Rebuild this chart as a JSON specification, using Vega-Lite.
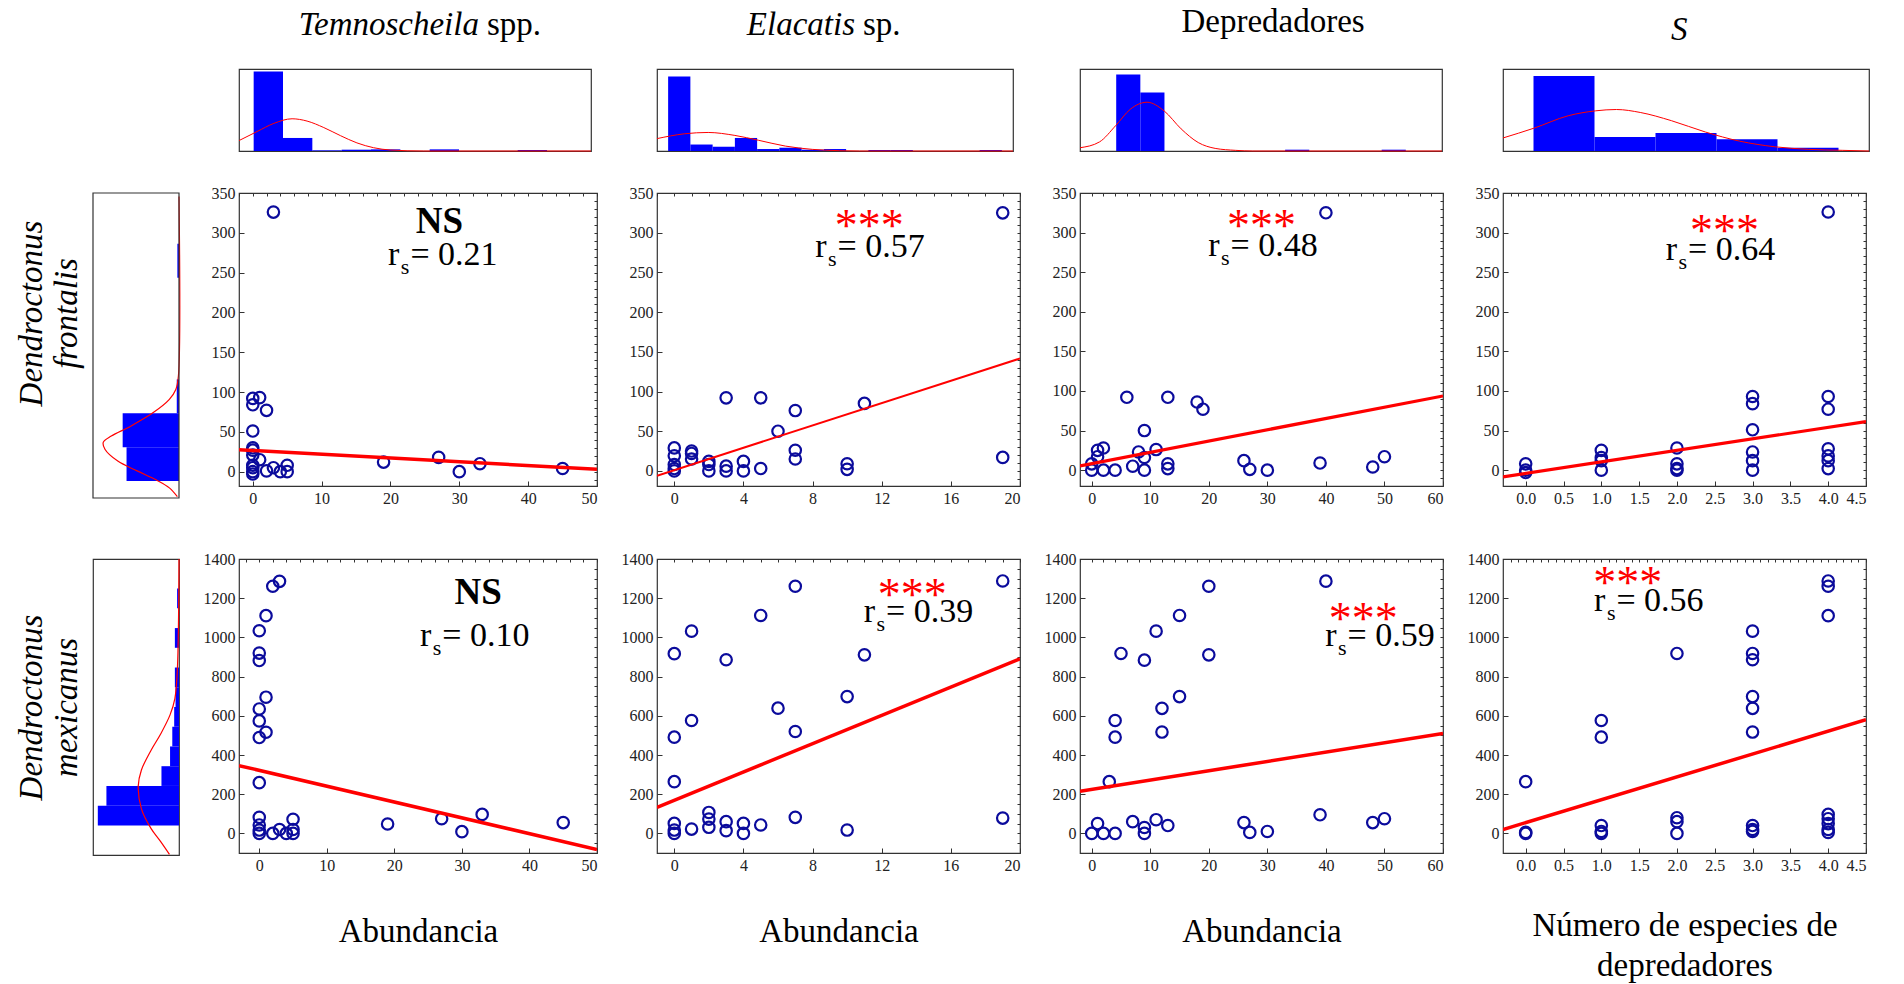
{
"$schema": "https://vega.github.io/schema/vega-lite/v6.json",
"background": "white",
"padding": {"left": 14, "top": 5, "right": 5, "bottom": 5},
"bounds": "flush",
"align": "each",
"columns": 5,
"spacing": {"row": 42, "column": 60},
"config": {
  "font": "Liberation Serif",
  "view": {"stroke": "#333333", "strokeWidth": 1.2},
  "axis": {"labelFont": "Liberation Serif", "labelFontSize": 16, "labelColor": "#222222", "grid": false, "domain": false, "tickColor": "#333333", "tickSize": -5, "labelPadding": 9, "titleFont": "Liberation Serif", "titleFontSize": 33, "titleFontWeight": "normal", "titleColor": "#000000"},
  "text": {"font": "Liberation Serif", "baseline": "alphabetic"}
},
"datasets": {
  "s11": [{"x":3,"y":326},{"x":0,"y":92},{"x":0,"y":84},{"x":1,"y":93},{"x":2,"y":77},{"x":0,"y":51},{"x":0,"y":30},{"x":0,"y":27},{"x":0,"y":21},{"x":1,"y":15},{"x":0,"y":8},{"x":0,"y":5},{"x":0,"y":0},{"x":0,"y":-3},{"x":2,"y":1},{"x":3,"y":5},{"x":4,"y":0},{"x":5,"y":8},{"x":5,"y":0},{"x":19,"y":12},{"x":27,"y":18},{"x":30,"y":0},{"x":33,"y":10},{"x":45,"y":4}],
  "l11": [{"x":-2,"y":27.5},{"x":50,"y":3}],
  "s12": [{"x":19,"y":325},{"x":3,"y":92},{"x":5,"y":92},{"x":7,"y":76},{"x":11,"y":85},{"x":6,"y":50},{"x":7,"y":26},{"x":7,"y":15},{"x":0,"y":29},{"x":0,"y":19},{"x":0,"y":8},{"x":0,"y":3},{"x":0,"y":0},{"x":1,"y":25},{"x":1,"y":22},{"x":1,"y":15},{"x":2,"y":12},{"x":2,"y":8},{"x":2,"y":0},{"x":3,"y":6},{"x":3,"y":0},{"x":4,"y":12},{"x":4,"y":0},{"x":5,"y":3},{"x":10,"y":9},{"x":10,"y":2},{"x":19,"y":17}],
  "l12": [{"x":-1,"y":-6},{"x":20,"y":141.6}],
  "s13": [{"x":40,"y":325},{"x":6,"y":92},{"x":13,"y":92},{"x":18,"y":86},{"x":19,"y":77},{"x":9,"y":50},{"x":2,"y":28},{"x":1,"y":25},{"x":1,"y":17},{"x":0,"y":8},{"x":0,"y":0},{"x":2,"y":0},{"x":4,"y":0},{"x":7,"y":5},{"x":8,"y":23},{"x":9,"y":16},{"x":9,"y":0},{"x":11,"y":26},{"x":13,"y":8},{"x":13,"y":2},{"x":26,"y":12},{"x":27,"y":1},{"x":30,"y":0},{"x":39,"y":9},{"x":48,"y":4},{"x":50,"y":17}],
  "l13": [{"x":-2,"y":5.5},{"x":60,"y":93.7}],
  "s14": [{"x":4,"y":326},{"x":0,"y":8},{"x":0,"y":0},{"x":0,"y":-3},{"x":1,"y":25},{"x":1,"y":16},{"x":1,"y":12},{"x":1,"y":0},{"x":2,"y":28},{"x":2,"y":8},{"x":2,"y":2},{"x":2,"y":0},{"x":3,"y":93},{"x":3,"y":84},{"x":3,"y":51},{"x":3,"y":23},{"x":3,"y":12},{"x":3,"y":0},{"x":4,"y":93},{"x":4,"y":77},{"x":4,"y":27},{"x":4,"y":18},{"x":4,"y":12},{"x":4,"y":2}],
  "l14": [{"x":-0.3,"y":-8.4},{"x":4.5,"y":61.3}],
  "s21": [{"x":3,"y":1286},{"x":2,"y":1261},{"x":1,"y":1111},{"x":0,"y":1034},{"x":0,"y":920},{"x":0,"y":882},{"x":1,"y":695},{"x":0,"y":635},{"x":0,"y":574},{"x":1,"y":516},{"x":0,"y":489},{"x":0,"y":259},{"x":0,"y":82},{"x":0,"y":43},{"x":0,"y":17},{"x":0,"y":0},{"x":2,"y":0},{"x":3,"y":20},{"x":4,"y":0},{"x":5,"y":72},{"x":5,"y":20},{"x":5,"y":0},{"x":19,"y":48},{"x":27,"y":75},{"x":30,"y":9},{"x":33,"y":97},{"x":45,"y":55}],
  "l21": [{"x":-3,"y":346},{"x":50,"y":-82}],
  "s22": [{"x":19,"y":1288},{"x":7,"y":1261},{"x":5,"y":1112},{"x":1,"y":1032},{"x":0,"y":917},{"x":3,"y":886},{"x":11,"y":911},{"x":10,"y":698},{"x":6,"y":639},{"x":1,"y":576},{"x":7,"y":520},{"x":0,"y":491},{"x":0,"y":264},{"x":0,"y":51},{"x":0,"y":17},{"x":0,"y":0},{"x":1,"y":22},{"x":2,"y":107},{"x":2,"y":73},{"x":2,"y":31},{"x":3,"y":60},{"x":3,"y":14},{"x":4,"y":51},{"x":4,"y":0},{"x":5,"y":43},{"x":7,"y":82},{"x":10,"y":17},{"x":19,"y":78}],
  "l22": [{"x":-1,"y":133},{"x":20,"y":891}],
  "s23": [{"x":40,"y":1287},{"x":20,"y":1261},{"x":15,"y":1112},{"x":11,"y":1032},{"x":5,"y":918},{"x":9,"y":884},{"x":20,"y":911},{"x":15,"y":698},{"x":12,"y":638},{"x":4,"y":576},{"x":12,"y":517},{"x":4,"y":491},{"x":3,"y":264},{"x":0,"y":0},{"x":1,"y":50},{"x":2,"y":0},{"x":4,"y":0},{"x":7,"y":60},{"x":9,"y":0},{"x":9,"y":30},{"x":11,"y":70},{"x":13,"y":40},{"x":26,"y":55},{"x":27,"y":5},{"x":30,"y":10},{"x":39,"y":95},{"x":48,"y":55},{"x":50,"y":75}],
  "l23": [{"x":-2,"y":215},{"x":60,"y":510}],
  "s24": [{"x":0,"y":264},{"x":0,"y":0},{"x":0,"y":5},{"x":1,"y":576},{"x":1,"y":491},{"x":1,"y":40},{"x":1,"y":10},{"x":1,"y":0},{"x":2,"y":918},{"x":2,"y":80},{"x":2,"y":60},{"x":2,"y":0},{"x":3,"y":1032},{"x":3,"y":918},{"x":3,"y":886},{"x":3,"y":698},{"x":3,"y":638},{"x":3,"y":517},{"x":3,"y":40},{"x":3,"y":20},{"x":3,"y":10},{"x":4,"y":1288},{"x":4,"y":1261},{"x":4,"y":1111},{"x":4,"y":97},{"x":4,"y":75},{"x":4,"y":50},{"x":4,"y":20},{"x":4,"y":5}],
  "l24": [{"x":-0.3,"y":20},{"x":4.5,"y":580}],
  "h1": [{"a":0.5,"b":1.5,"h":96.8},{"a":1.5,"b":2.5,"h":15.9},{"a":2.5,"b":3.5,"h":0.8},{"a":3.5,"b":4.5,"h":1.6},{"a":4.5,"b":5.5,"h":2},{"a":6.5,"b":7.5,"h":2},{"a":9.5,"b":10.5,"h":1.2}],
  "c1": [{"u":0,"h":12.7},{"u":0.62,"h":23.8},{"u":1.19,"h":33.7},{"u":1.81,"h":39.3},{"u":2.32,"h":36.5},{"u":2.89,"h":28.6},{"u":3.46,"h":18.7},{"u":4.02,"h":9.9},{"u":4.59,"h":4},{"u":5.16,"h":1.2},{"u":6.3,"h":0},{"u":12,"h":0}],
  "h2": [{"a":0.5,"b":1.5,"h":91},{"a":1.5,"b":2.5,"h":7.9},{"a":2.5,"b":3.5,"h":5.2},{"a":3.5,"b":4.5,"h":15.9},{"a":4.5,"b":5.5,"h":2.4},{"a":5.5,"b":6.5,"h":4},{"a":6.5,"b":7.5,"h":1.6},{"a":7.5,"b":8.5,"h":2.4},{"a":9.5,"b":10.5,"h":1.2},{"a":10.5,"b":11.5,"h":1.2},{"a":14.5,"b":15.5,"h":1.2}],
  "c2": [{"u":0,"h":15.1},{"u":1.24,"h":21},{"u":2.3,"h":22.6},{"u":3.5,"h":19},{"u":4.56,"h":13.1},{"u":5.77,"h":6},{"u":6.98,"h":2},{"u":8.19,"h":0.4},{"u":9.1,"h":0},{"u":16,"h":0}],
  "h3": [{"a":1.5,"b":2.5,"h":93.3},{"a":2.5,"b":3.5,"h":71.4},{"a":8.5,"b":9.5,"h":1.6},{"a":12.5,"b":13.5,"h":1.6}],
  "c3": [{"u":0,"h":4},{"u":0.81,"h":11.1},{"u":1.48,"h":31},{"u":2.08,"h":50.8},{"u":2.78,"h":59.5},{"u":3.49,"h":48.8},{"u":4.19,"h":27},{"u":4.9,"h":10.3},{"u":5.6,"h":3.2},{"u":6.45,"h":0.8},{"u":7.16,"h":0},{"u":15,"h":0}],
  "h4": [{"a":0.5,"b":1.5,"h":91.6},{"a":1.5,"b":2.5,"h":17.1},{"a":2.5,"b":3.5,"h":21.9},{"a":3.5,"b":4.5,"h":14.3},{"a":4.5,"b":5.5,"h":4}],
  "c4": [{"u":0,"h":15.9},{"u":0.51,"h":27.9},{"u":1.07,"h":43},{"u":1.52,"h":49},{"u":1.86,"h":50.6},{"u":2.25,"h":47},{"u":2.76,"h":37},{"u":3.32,"h":23.1},{"u":3.88,"h":12},{"u":4.45,"h":5.2},{"u":5.01,"h":2},{"u":5.57,"h":0.8},{"u":6,"h":0}],
  "g1": [{"a":0.5,"b":1.5,"h":61},{"a":1.5,"b":2.5,"h":65.5},{"a":2.5,"b":3.5,"h":2.6},{"a":6.5,"b":7.5,"h":1.9}],
  "k1": [{"v":0.04,"h":1.9},{"v":0.3,"h":11.2},{"v":0.53,"h":26.2},{"v":0.8,"h":48.7},{"v":1.09,"h":71.2},{"v":1.44,"h":86.1},{"v":1.65,"h":88},{"v":1.83,"h":78.7},{"v":2.12,"h":56.2},{"v":2.52,"h":29.9},{"v":2.91,"h":11.2},{"v":3.2,"h":3.7},{"v":3.6,"h":0.7},{"v":8.9,"h":0}],
  "g2": [{"a":1.5,"b":2.5,"h":94.4},{"a":2.5,"b":3.5,"h":84.4},{"a":3.5,"b":4.5,"h":20.4},{"a":4.5,"b":5.5,"h":10.4},{"a":5.5,"b":6.5,"h":7.8},{"a":6.5,"b":7.5,"h":5.6},{"a":7.5,"b":8.5,"h":4},{"a":8.5,"b":9.5,"h":4.8},{"a":10.5,"b":11.5,"h":4.8},{"a":12.5,"b":13.5,"h":2.2}],
  "k2": [{"v":0.03,"h":11.1},{"v":0.69,"h":21.5},{"v":1.35,"h":32.6},{"v":2.34,"h":43.7},{"v":3.49,"h":47.4},{"v":4.31,"h":43.7},{"v":5.3,"h":32.6},{"v":6.12,"h":21.5},{"v":7.1,"h":10.4},{"v":7.93,"h":4.8},{"v":9.4,"h":1.9},{"v":15,"h":0}]
},
"concat": [
  {"width": 86, "height": 82, "view": {"stroke": null}, "data": {"values": [{}]}, "mark": {"type": "text", "text": ""}},
  {"width": 352, "height": 82, "layer": [
    {"data": {"name": "h1"}, "mark": {"type": "rect", "color": "#0000ff"}, "encoding": {"x": {"field": "a", "type": "quantitative", "scale": {"domain": [0, 12], "nice": false, "zero": false}, "axis": null}, "x2": {"field": "b"}, "y": {"field": "h", "type": "quantitative", "scale": {"domain": [0, 100], "nice": false}, "axis": null}, "y2": {"datum": 0}}},
    {"data": {"name": "c1"}, "mark": {"type": "line", "color": "#ff0000", "strokeWidth": 1, "interpolate": "monotone"}, "encoding": {"x": {"field": "u", "type": "quantitative"}, "y": {"field": "h", "type": "quantitative"}}},
    {"data": {"values": [{}]}, "mark": {"type": "text", "text": "Temnoscheila", "fontStyle": "italic", "fontSize": 33, "align": "right"}, "encoding": {"x": {"datum": 8.18}, "y": {"datum": 141.5}}},
    {"data": {"values": [{}]}, "mark": {"type": "text", "text": "spp.", "fontSize": 33, "align": "left", "dx": 8}, "encoding": {"x": {"datum": 8.18}, "y": {"datum": 141.5}}}
  ]},
  {"width": 356, "height": 82, "layer": [
    {"data": {"name": "h2"}, "mark": {"type": "rect", "color": "#0000ff"}, "encoding": {"x": {"field": "a", "type": "quantitative", "scale": {"domain": [0, 16], "nice": false, "zero": false}, "axis": null}, "x2": {"field": "b"}, "y": {"field": "h", "type": "quantitative", "scale": {"domain": [0, 100], "nice": false}, "axis": null}, "y2": {"datum": 0}}},
    {"data": {"name": "c2"}, "mark": {"type": "line", "color": "#ff0000", "strokeWidth": 1, "interpolate": "monotone"}, "encoding": {"x": {"field": "u", "type": "quantitative"}, "y": {"field": "h", "type": "quantitative"}}},
    {"data": {"values": [{}]}, "mark": {"type": "text", "text": "Elacatis", "fontStyle": "italic", "fontSize": 33, "align": "right"}, "encoding": {"x": {"datum": 8.9}, "y": {"datum": 141.5}}},
    {"data": {"values": [{}]}, "mark": {"type": "text", "text": "sp.", "fontSize": 33, "align": "left", "dx": 8}, "encoding": {"x": {"datum": 8.9}, "y": {"datum": 141.5}}}
  ]},
  {"width": 362, "height": 82, "layer": [
    {"data": {"name": "h3"}, "mark": {"type": "rect", "color": "#0000ff"}, "encoding": {"x": {"field": "a", "type": "quantitative", "scale": {"domain": [0, 15], "nice": false, "zero": false}, "axis": null}, "x2": {"field": "b"}, "y": {"field": "h", "type": "quantitative", "scale": {"domain": [0, 100], "nice": false}, "axis": null}, "y2": {"datum": 0}}},
    {"data": {"name": "c3"}, "mark": {"type": "line", "color": "#ff0000", "strokeWidth": 1, "interpolate": "monotone"}, "encoding": {"x": {"field": "u", "type": "quantitative"}, "y": {"field": "h", "type": "quantitative"}}},
    {"data": {"values": [{}]}, "mark": {"type": "text", "text": "Depredadores", "fontSize": 33, "align": "center"}, "encoding": {"x": {"datum": 8.0}, "y": {"datum": 145.5}}}
  ]},
  {"width": 366, "height": 82, "layer": [
    {"data": {"name": "h4"}, "mark": {"type": "rect", "color": "#0000ff"}, "encoding": {"x": {"field": "a", "type": "quantitative", "scale": {"domain": [0, 6], "nice": false, "zero": false}, "axis": null}, "x2": {"field": "b"}, "y": {"field": "h", "type": "quantitative", "scale": {"domain": [0, 100], "nice": false}, "axis": null}, "y2": {"datum": 0}}},
    {"data": {"name": "c4"}, "mark": {"type": "line", "color": "#ff0000", "strokeWidth": 1, "interpolate": "monotone"}, "encoding": {"x": {"field": "u", "type": "quantitative"}, "y": {"field": "h", "type": "quantitative"}}},
    {"data": {"values": [{}]}, "mark": {"type": "text", "text": "S", "fontStyle": "italic", "fontSize": 33, "align": "center"}, "encoding": {"x": {"datum": 2.89}, "y": {"datum": 135.4}}}
  ]},

  {"width": 86, "height": 324, "view": {"stroke": null}, "layer": [
    {"data": {"name": "g1"}, "mark": {"type": "rect", "color": "#0000ff"}, "encoding": {"y": {"field": "a", "type": "quantitative", "scale": {"domain": [-0.56, 9], "nice": false, "zero": false}, "axis": {"title": ["Dendroctonus", "frontalis"], "labels": false, "ticks": false, "titleFontStyle": "italic", "titlePadding": 10, "titleLineHeight": 35, "titleY": 120}}, "y2": {"field": "b"}, "x": {"field": "h", "type": "quantitative", "scale": {"domain": [0, 100], "reverse": true, "nice": false}, "axis": null}, "x2": {"datum": 0}}},
    {"data": {"name": "k1"}, "mark": {"type": "line", "color": "#ff0000", "strokeWidth": 1.2, "interpolate": "catmull-rom"}, "encoding": {"x": {"field": "h", "type": "quantitative"}, "y": {"field": "v", "type": "quantitative", "title": ["Dendroctonus", "frontalis"]}, "order": {"field": "v", "type": "quantitative"}}},
    {"data": {"values": [{}]}, "mark": {"type": "rect", "fillOpacity": 0, "stroke": "#333333", "strokeWidth": 1.2}, "encoding": {"x": {"datum": 0}, "x2": {"datum": 100}, "y": {"datum": 0}, "y2": {"datum": 9}}}
  ]},
  {"width": 358, "height": 293, "resolve": {"axis": {"x": "independent", "y": "independent"}}, "layer": [
    {"layer": [
      {"data": {"name": "s11"}, "mark": {"type": "point", "shape": "circle", "filled": false, "size": 130, "strokeWidth": 2.2, "color": "#0b0b9c", "opacity": 1}, "encoding": {"x": {"field": "x", "type": "quantitative", "title": null, "scale": {"domain": [-2, 50], "nice": false, "zero": false}, "axis": {"values": [0, 10, 20, 30, 40, 50]}}, "y": {"field": "y", "type": "quantitative", "title": null, "scale": {"domain": [-18, 350], "nice": false, "zero": false}, "axis": {"values": [0, 50, 100, 150, 200, 250, 300, 350]}}}},
      {"data": {"name": "l11"}, "mark": {"type": "line", "color": "#ff0000", "strokeWidth": 3.5, "clip": true}, "encoding": {"x": {"field": "x", "type": "quantitative", "title": null}, "y": {"field": "y", "type": "quantitative", "title": null}}},
      {"data": {"values": [{}]}, "mark": {"type": "text", "text": "NS", "fontSize": 37, "fontWeight": "bold", "align": "center"}, "encoding": {"x": {"datum": 27.1}, "y": {"datum": 300}}},
      {"data": {"values": [{}]}, "mark": {"type": "text", "text": "= 0.21", "fontSize": 34, "align": "left"}, "encoding": {"x": {"datum": 22.9}, "y": {"datum": 259}}},
      {"data": {"values": [{}]}, "mark": {"type": "text", "text": "r", "fontSize": 34, "align": "right", "dx": -11}, "encoding": {"x": {"datum": 22.9}, "y": {"datum": 259}}},
      {"data": {"values": [{}]}, "mark": {"type": "text", "text": "s", "fontSize": 22, "align": "right", "dx": -1, "dy": 9}, "encoding": {"x": {"datum": 22.9}, "y": {"datum": 259}}}
    ]},
    {"data": {"values": [{}]}, "mark": {"type": "point", "opacity": 0}, "encoding": {"x": {"datum": 0, "type": "quantitative", "axis": {"orient": "top", "labels": false, "tickSize": -3, "title": null, "values": [-2,0,2,4,6,8,10,12,14,16,18,20,22,24,26,28,30,32,34,36,38,40,42,44,46,48,50]}}, "y": {"datum": 0, "type": "quantitative", "axis": {"orient": "right", "labels": false, "tickSize": -3, "title": null, "values": [-10,0,10,20,30,40,50,60,70,80,90,100,110,120,130,140,150,160,170,180,190,200,210,220,230,240,250,260,270,280,290,300,310,320,330,340,350]}}}}
  ]},
  {"width": 363, "height": 293, "resolve": {"axis": {"x": "independent", "y": "independent"}}, "layer": [
    {"layer": [
      {"data": {"name": "s12"}, "mark": {"type": "point", "shape": "circle", "filled": false, "size": 130, "strokeWidth": 2.2, "color": "#0b0b9c", "opacity": 1}, "encoding": {"x": {"field": "x", "type": "quantitative", "title": null, "scale": {"domain": [-1, 20], "nice": false, "zero": false}, "axis": {"values": [0, 2, 4, 6, 8, 10, 12, 14, 16, 18, 20]}}, "y": {"field": "y", "type": "quantitative", "title": null, "scale": {"domain": [-19, 350], "nice": false, "zero": false}, "axis": {"values": [0, 50, 100, 150, 200, 250, 300, 350]}}}},
      {"data": {"name": "l12"}, "mark": {"type": "line", "color": "#ff0000", "strokeWidth": 2, "clip": true}, "encoding": {"x": {"field": "x", "type": "quantitative", "title": null}, "y": {"field": "y", "type": "quantitative", "title": null}}},
      {"data": {"values": [{}]}, "mark": {"type": "text", "text": "***", "fontSize": 46, "color": "#ff0000", "align": "center"}, "encoding": {"x": {"datum": 11.28}, "y": {"datum": 290}}},
      {"data": {"values": [{}]}, "mark": {"type": "text", "text": "= 0.57", "fontSize": 34, "align": "left"}, "encoding": {"x": {"datum": 9.44}, "y": {"datum": 270}}},
      {"data": {"values": [{}]}, "mark": {"type": "text", "text": "r", "fontSize": 34, "align": "right", "dx": -11}, "encoding": {"x": {"datum": 9.44}, "y": {"datum": 270}}},
      {"data": {"values": [{}]}, "mark": {"type": "text", "text": "s", "fontSize": 22, "align": "right", "dx": -1, "dy": 9}, "encoding": {"x": {"datum": 9.44}, "y": {"datum": 270}}}
    ]},
    {"data": {"values": [{}]}, "mark": {"type": "point", "opacity": 0}, "encoding": {"x": {"datum": 0, "type": "quantitative", "axis": {"orient": "top", "labels": false, "tickSize": -3, "title": null, "values": [-1,0,1,2,3,4,5,6,7,8,9,10,11,12,13,14,15,16,17,18,19,20]}}, "y": {"datum": 0, "type": "quantitative", "axis": {"orient": "right", "labels": false, "tickSize": -3, "title": null, "values": [-10,0,10,20,30,40,50,60,70,80,90,100,110,120,130,140,150,160,170,180,190,200,210,220,230,240,250,260,270,280,290,300,310,320,330,340,350]}}}}
  ]},
  {"width": 363, "height": 293, "resolve": {"axis": {"x": "independent", "y": "independent"}}, "layer": [
    {"layer": [
      {"data": {"name": "s13"}, "mark": {"type": "point", "shape": "circle", "filled": false, "size": 130, "strokeWidth": 2.2, "color": "#0b0b9c", "opacity": 1}, "encoding": {"x": {"field": "x", "type": "quantitative", "title": null, "scale": {"domain": [-2, 60], "nice": false, "zero": false}, "axis": {"values": [0, 10, 20, 30, 40, 50, 60]}}, "y": {"field": "y", "type": "quantitative", "title": null, "scale": {"domain": [-20, 350], "nice": false, "zero": false}, "axis": {"values": [0, 50, 100, 150, 200, 250, 300, 350]}}}},
      {"data": {"name": "l13"}, "mark": {"type": "line", "color": "#ff0000", "strokeWidth": 3.2, "clip": true}, "encoding": {"x": {"field": "x", "type": "quantitative", "title": null}, "y": {"field": "y", "type": "quantitative", "title": null}}},
      {"data": {"values": [{}]}, "mark": {"type": "text", "text": "***", "fontSize": 46, "color": "#ff0000", "align": "center"}, "encoding": {"x": {"datum": 29}, "y": {"datum": 290}}},
      {"data": {"values": [{}]}, "mark": {"type": "text", "text": "= 0.48", "fontSize": 34, "align": "left"}, "encoding": {"x": {"datum": 23.7}, "y": {"datum": 271}}},
      {"data": {"values": [{}]}, "mark": {"type": "text", "text": "r", "fontSize": 34, "align": "right", "dx": -11}, "encoding": {"x": {"datum": 23.7}, "y": {"datum": 271}}},
      {"data": {"values": [{}]}, "mark": {"type": "text", "text": "s", "fontSize": 22, "align": "right", "dx": -1, "dy": 9}, "encoding": {"x": {"datum": 23.7}, "y": {"datum": 271}}}
    ]},
    {"data": {"values": [{}]}, "mark": {"type": "point", "opacity": 0}, "encoding": {"x": {"datum": 0, "type": "quantitative", "axis": {"orient": "top", "labels": false, "tickSize": -3, "title": null, "values": [-2,0,2,4,6,8,10,12,14,16,18,20,22,24,26,28,30,32,34,36,38,40,42,44,46,48,50,52,54,56,58,60]}}, "y": {"datum": 0, "type": "quantitative", "axis": {"orient": "right", "labels": false, "tickSize": -3, "title": null, "values": [-10,0,10,20,30,40,50,60,70,80,90,100,110,120,130,140,150,160,170,180,190,200,210,220,230,240,250,260,270,280,290,300,310,320,330,340,350]}}}}
  ]},
  {"width": 363, "height": 293, "resolve": {"axis": {"x": "independent", "y": "independent"}}, "layer": [
    {"layer": [
      {"data": {"name": "s14"}, "mark": {"type": "point", "shape": "circle", "filled": false, "size": 130, "strokeWidth": 2.2, "color": "#0b0b9c", "opacity": 1}, "encoding": {"x": {"field": "x", "type": "quantitative", "title": null, "scale": {"domain": [-0.3, 4.5], "nice": false, "zero": false}, "axis": {"values": [0, 0.5, 1, 1.5, 2, 2.5, 3, 3.5, 4, 4.5], "format": ".1f"}}, "y": {"field": "y", "type": "quantitative", "title": null, "scale": {"domain": [-20, 350], "nice": false, "zero": false}, "axis": {"values": [0, 50, 100, 150, 200, 250, 300, 350]}}}},
      {"data": {"name": "l14"}, "mark": {"type": "line", "color": "#ff0000", "strokeWidth": 3.2, "clip": true}, "encoding": {"x": {"field": "x", "type": "quantitative", "title": null}, "y": {"field": "y", "type": "quantitative", "title": null}}},
      {"data": {"values": [{}]}, "mark": {"type": "text", "text": "***", "fontSize": 46, "color": "#ff0000", "align": "center"}, "encoding": {"x": {"datum": 2.63}, "y": {"datum": 283}}},
      {"data": {"values": [{}]}, "mark": {"type": "text", "text": "= 0.64", "fontSize": 34, "align": "left"}, "encoding": {"x": {"datum": 2.147}, "y": {"datum": 265}}},
      {"data": {"values": [{}]}, "mark": {"type": "text", "text": "r", "fontSize": 34, "align": "right", "dx": -11}, "encoding": {"x": {"datum": 2.147}, "y": {"datum": 265}}},
      {"data": {"values": [{}]}, "mark": {"type": "text", "text": "s", "fontSize": 22, "align": "right", "dx": -1, "dy": 9}, "encoding": {"x": {"datum": 2.147}, "y": {"datum": 265}}}
    ]},
    {"data": {"values": [{}]}, "mark": {"type": "point", "opacity": 0}, "encoding": {"x": {"datum": 0, "type": "quantitative", "axis": {"orient": "top", "labels": false, "tickSize": -3, "title": null, "values": [-0.2,-0.1,0,0.1,0.2,0.3,0.4,0.5,0.6,0.7,0.8,0.9,1,1.1,1.2,1.3,1.4,1.5,1.6,1.7,1.8,1.9,2,2.1,2.2,2.3,2.4,2.5,2.6,2.7,2.8,2.9,3,3.1,3.2,3.3,3.4,3.5,3.6,3.7,3.8,3.9,4,4.1,4.2,4.3,4.4,4.5]}}, "y": {"datum": 0, "type": "quantitative", "axis": {"orient": "right", "labels": false, "tickSize": -3, "title": null, "values": [-10,0,10,20,30,40,50,60,70,80,90,100,110,120,130,140,150,160,170,180,190,200,210,220,230,240,250,260,270,280,290,300,310,320,330,340,350]}}}}
  ]},

  {"width": 86, "height": 296, "layer": [
    {"data": {"name": "g2"}, "mark": {"type": "rect", "color": "#0000ff"}, "encoding": {"y": {"field": "a", "type": "quantitative", "scale": {"domain": [0, 15], "nice": false, "zero": false}, "axis": {"title": ["Dendroctonus", "mexicanus"], "labels": false, "ticks": false, "titleFontStyle": "italic", "titlePadding": 10, "titleLineHeight": 35}}, "y2": {"field": "b"}, "x": {"field": "h", "type": "quantitative", "scale": {"domain": [0, 100], "reverse": true, "nice": false}, "axis": null}, "x2": {"datum": 0}}},
    {"data": {"name": "k2"}, "mark": {"type": "line", "color": "#ff0000", "strokeWidth": 1.2, "interpolate": "catmull-rom"}, "encoding": {"x": {"field": "h", "type": "quantitative"}, "y": {"field": "v", "type": "quantitative", "title": ["Dendroctonus", "mexicanus"]}, "order": {"field": "v", "type": "quantitative"}}}
  ]},
  {"width": 358, "height": 294, "resolve": {"axis": {"x": "independent", "y": "independent"}}, "layer": [
    {"layer": [
      {"data": {"name": "s21"}, "mark": {"type": "point", "shape": "circle", "filled": false, "size": 130, "strokeWidth": 2.2, "color": "#0b0b9c", "opacity": 1}, "encoding": {"x": {"field": "x", "type": "quantitative", "title": "Abundancia", "scale": {"domain": [-3, 50], "nice": false, "zero": false}, "axis": {"values": [0, 10, 20, 30, 40, 50], "titlePadding": 42}}, "y": {"field": "y", "type": "quantitative", "title": null, "scale": {"domain": [-100, 1400], "nice": false, "zero": false}, "axis": {"values": [0, 200, 400, 600, 800, 1000, 1200, 1400], "format": "d"}}}},
      {"data": {"name": "l21"}, "mark": {"type": "line", "color": "#ff0000", "strokeWidth": 3.5, "clip": true}, "encoding": {"x": {"field": "x", "type": "quantitative", "title": "Abundancia"}, "y": {"field": "y", "type": "quantitative", "title": null}}},
      {"data": {"values": [{}]}, "mark": {"type": "text", "text": "NS", "fontSize": 37, "fontWeight": "bold", "align": "center"}, "encoding": {"x": {"datum": 32.4}, "y": {"datum": 1170}}},
      {"data": {"values": [{}]}, "mark": {"type": "text", "text": "= 0.10", "fontSize": 34, "align": "left"}, "encoding": {"x": {"datum": 27.1}, "y": {"datum": 957}}},
      {"data": {"values": [{}]}, "mark": {"type": "text", "text": "r", "fontSize": 34, "align": "right", "dx": -11}, "encoding": {"x": {"datum": 27.1}, "y": {"datum": 957}}},
      {"data": {"values": [{}]}, "mark": {"type": "text", "text": "s", "fontSize": 22, "align": "right", "dx": -1, "dy": 9}, "encoding": {"x": {"datum": 27.1}, "y": {"datum": 957}}}
    ]},
    {"data": {"values": [{}]}, "mark": {"type": "point", "opacity": 0}, "encoding": {"x": {"datum": 0, "type": "quantitative", "axis": {"orient": "top", "labels": false, "tickSize": -3, "title": null, "values": [-2,0,2,4,6,8,10,12,14,16,18,20,22,24,26,28,30,32,34,36,38,40,42,44,46,48,50]}}, "y": {"datum": 0, "type": "quantitative", "axis": {"orient": "right", "labels": false, "tickSize": -3, "title": null, "values": [-50,0,50,100,150,200,250,300,350,400,450,500,550,600,650,700,750,800,850,900,950,1000,1050,1100,1150,1200,1250,1300,1350,1400]}}}}
  ]},
  {"width": 363, "height": 294, "resolve": {"axis": {"x": "independent", "y": "independent"}}, "layer": [
    {"layer": [
      {"data": {"name": "s22"}, "mark": {"type": "point", "shape": "circle", "filled": false, "size": 130, "strokeWidth": 2.2, "color": "#0b0b9c", "opacity": 1}, "encoding": {"x": {"field": "x", "type": "quantitative", "title": "Abundancia", "scale": {"domain": [-1, 20], "nice": false, "zero": false}, "axis": {"values": [0, 2, 4, 6, 8, 10, 12, 14, 16, 18, 20], "titlePadding": 42}}, "y": {"field": "y", "type": "quantitative", "title": null, "scale": {"domain": [-100, 1400], "nice": false, "zero": false}, "axis": {"values": [0, 200, 400, 600, 800, 1000, 1200, 1400], "format": "d"}}}},
      {"data": {"name": "l22"}, "mark": {"type": "line", "color": "#ff0000", "strokeWidth": 3.5, "clip": true}, "encoding": {"x": {"field": "x", "type": "quantitative", "title": "Abundancia"}, "y": {"field": "y", "type": "quantitative", "title": null}}},
      {"data": {"values": [{}]}, "mark": {"type": "text", "text": "***", "fontSize": 46, "color": "#ff0000", "align": "center"}, "encoding": {"x": {"datum": 13.76}, "y": {"datum": 1139}}},
      {"data": {"values": [{}]}, "mark": {"type": "text", "text": "= 0.39", "fontSize": 34, "align": "left"}, "encoding": {"x": {"datum": 12.25}, "y": {"datum": 1079}}},
      {"data": {"values": [{}]}, "mark": {"type": "text", "text": "r", "fontSize": 34, "align": "right", "dx": -11}, "encoding": {"x": {"datum": 12.25}, "y": {"datum": 1079}}},
      {"data": {"values": [{}]}, "mark": {"type": "text", "text": "s", "fontSize": 22, "align": "right", "dx": -1, "dy": 9}, "encoding": {"x": {"datum": 12.25}, "y": {"datum": 1079}}}
    ]},
    {"data": {"values": [{}]}, "mark": {"type": "point", "opacity": 0}, "encoding": {"x": {"datum": 0, "type": "quantitative", "axis": {"orient": "top", "labels": false, "tickSize": -3, "title": null, "values": [-1,0,1,2,3,4,5,6,7,8,9,10,11,12,13,14,15,16,17,18,19,20]}}, "y": {"datum": 0, "type": "quantitative", "axis": {"orient": "right", "labels": false, "tickSize": -3, "title": null, "values": [-50,0,50,100,150,200,250,300,350,400,450,500,550,600,650,700,750,800,850,900,950,1000,1050,1100,1150,1200,1250,1300,1350,1400]}}}}
  ]},
  {"width": 363, "height": 294, "resolve": {"axis": {"x": "independent", "y": "independent"}}, "layer": [
    {"layer": [
      {"data": {"name": "s23"}, "mark": {"type": "point", "shape": "circle", "filled": false, "size": 130, "strokeWidth": 2.2, "color": "#0b0b9c", "opacity": 1}, "encoding": {"x": {"field": "x", "type": "quantitative", "title": "Abundancia", "scale": {"domain": [-2, 60], "nice": false, "zero": false}, "axis": {"values": [0, 10, 20, 30, 40, 50, 60], "titlePadding": 42}}, "y": {"field": "y", "type": "quantitative", "title": null, "scale": {"domain": [-100, 1400], "nice": false, "zero": false}, "axis": {"values": [0, 200, 400, 600, 800, 1000, 1200, 1400], "format": "d"}}}},
      {"data": {"name": "l23"}, "mark": {"type": "line", "color": "#ff0000", "strokeWidth": 3.5, "clip": true}, "encoding": {"x": {"field": "x", "type": "quantitative", "title": "Abundancia"}, "y": {"field": "y", "type": "quantitative", "title": null}}},
      {"data": {"values": [{}]}, "mark": {"type": "text", "text": "***", "fontSize": 46, "color": "#ff0000", "align": "center"}, "encoding": {"x": {"datum": 46.4}, "y": {"datum": 1019}}},
      {"data": {"values": [{}]}, "mark": {"type": "text", "text": "= 0.59", "fontSize": 34, "align": "left"}, "encoding": {"x": {"datum": 43.7}, "y": {"datum": 957}}},
      {"data": {"values": [{}]}, "mark": {"type": "text", "text": "r", "fontSize": 34, "align": "right", "dx": -11}, "encoding": {"x": {"datum": 43.7}, "y": {"datum": 957}}},
      {"data": {"values": [{}]}, "mark": {"type": "text", "text": "s", "fontSize": 22, "align": "right", "dx": -1, "dy": 9}, "encoding": {"x": {"datum": 43.7}, "y": {"datum": 957}}}
    ]},
    {"data": {"values": [{}]}, "mark": {"type": "point", "opacity": 0}, "encoding": {"x": {"datum": 0, "type": "quantitative", "axis": {"orient": "top", "labels": false, "tickSize": -3, "title": null, "values": [-2,0,2,4,6,8,10,12,14,16,18,20,22,24,26,28,30,32,34,36,38,40,42,44,46,48,50,52,54,56,58,60]}}, "y": {"datum": 0, "type": "quantitative", "axis": {"orient": "right", "labels": false, "tickSize": -3, "title": null, "values": [-50,0,50,100,150,200,250,300,350,400,450,500,550,600,650,700,750,800,850,900,950,1000,1050,1100,1150,1200,1250,1300,1350,1400]}}}}
  ]},
  {"width": 363, "height": 294, "resolve": {"axis": {"x": "independent", "y": "independent"}}, "layer": [
    {"layer": [
      {"data": {"name": "s24"}, "mark": {"type": "point", "shape": "circle", "filled": false, "size": 130, "strokeWidth": 2.2, "color": "#0b0b9c", "opacity": 1}, "encoding": {"x": {"field": "x", "type": "quantitative", "title": ["Número de especies de", "depredadores"], "scale": {"domain": [-0.3, 4.5], "nice": false, "zero": false}, "axis": {"values": [0, 0.5, 1, 1.5, 2, 2.5, 3, 3.5, 4, 4.5], "format": ".1f", "titlePadding": 36, "titleLineHeight": 40}}, "y": {"field": "y", "type": "quantitative", "title": null, "scale": {"domain": [-100, 1400], "nice": false, "zero": false}, "axis": {"values": [0, 200, 400, 600, 800, 1000, 1200, 1400], "format": "d"}}}},
      {"data": {"name": "l24"}, "mark": {"type": "line", "color": "#ff0000", "strokeWidth": 3.5, "clip": true}, "encoding": {"x": {"field": "x", "type": "quantitative", "title": ["Número de especies de", "depredadores"]}, "y": {"field": "y", "type": "quantitative", "title": null}}},
      {"data": {"values": [{}]}, "mark": {"type": "text", "text": "***", "fontSize": 46, "color": "#ff0000", "align": "center"}, "encoding": {"x": {"datum": 1.35}, "y": {"datum": 1203}}},
      {"data": {"values": [{}]}, "mark": {"type": "text", "text": "= 0.56", "fontSize": 34, "align": "left"}, "encoding": {"x": {"datum": 1.2}, "y": {"datum": 1136}}},
      {"data": {"values": [{}]}, "mark": {"type": "text", "text": "r", "fontSize": 34, "align": "right", "dx": -11}, "encoding": {"x": {"datum": 1.2}, "y": {"datum": 1136}}},
      {"data": {"values": [{}]}, "mark": {"type": "text", "text": "s", "fontSize": 22, "align": "right", "dx": -1, "dy": 9}, "encoding": {"x": {"datum": 1.2}, "y": {"datum": 1136}}}
    ]},
    {"data": {"values": [{}]}, "mark": {"type": "point", "opacity": 0}, "encoding": {"x": {"datum": 0, "type": "quantitative", "axis": {"orient": "top", "labels": false, "tickSize": -3, "title": null, "values": [-0.2,-0.1,0,0.1,0.2,0.3,0.4,0.5,0.6,0.7,0.8,0.9,1,1.1,1.2,1.3,1.4,1.5,1.6,1.7,1.8,1.9,2,2.1,2.2,2.3,2.4,2.5,2.6,2.7,2.8,2.9,3,3.1,3.2,3.3,3.4,3.5,3.6,3.7,3.8,3.9,4,4.1,4.2,4.3,4.4,4.5]}}, "y": {"datum": 0, "type": "quantitative", "axis": {"orient": "right", "labels": false, "tickSize": -3, "title": null, "values": [-50,0,50,100,150,200,250,300,350,400,450,500,550,600,650,700,750,800,850,900,950,1000,1050,1100,1150,1200,1250,1300,1350,1400]}}}}
  ]}
]
}
